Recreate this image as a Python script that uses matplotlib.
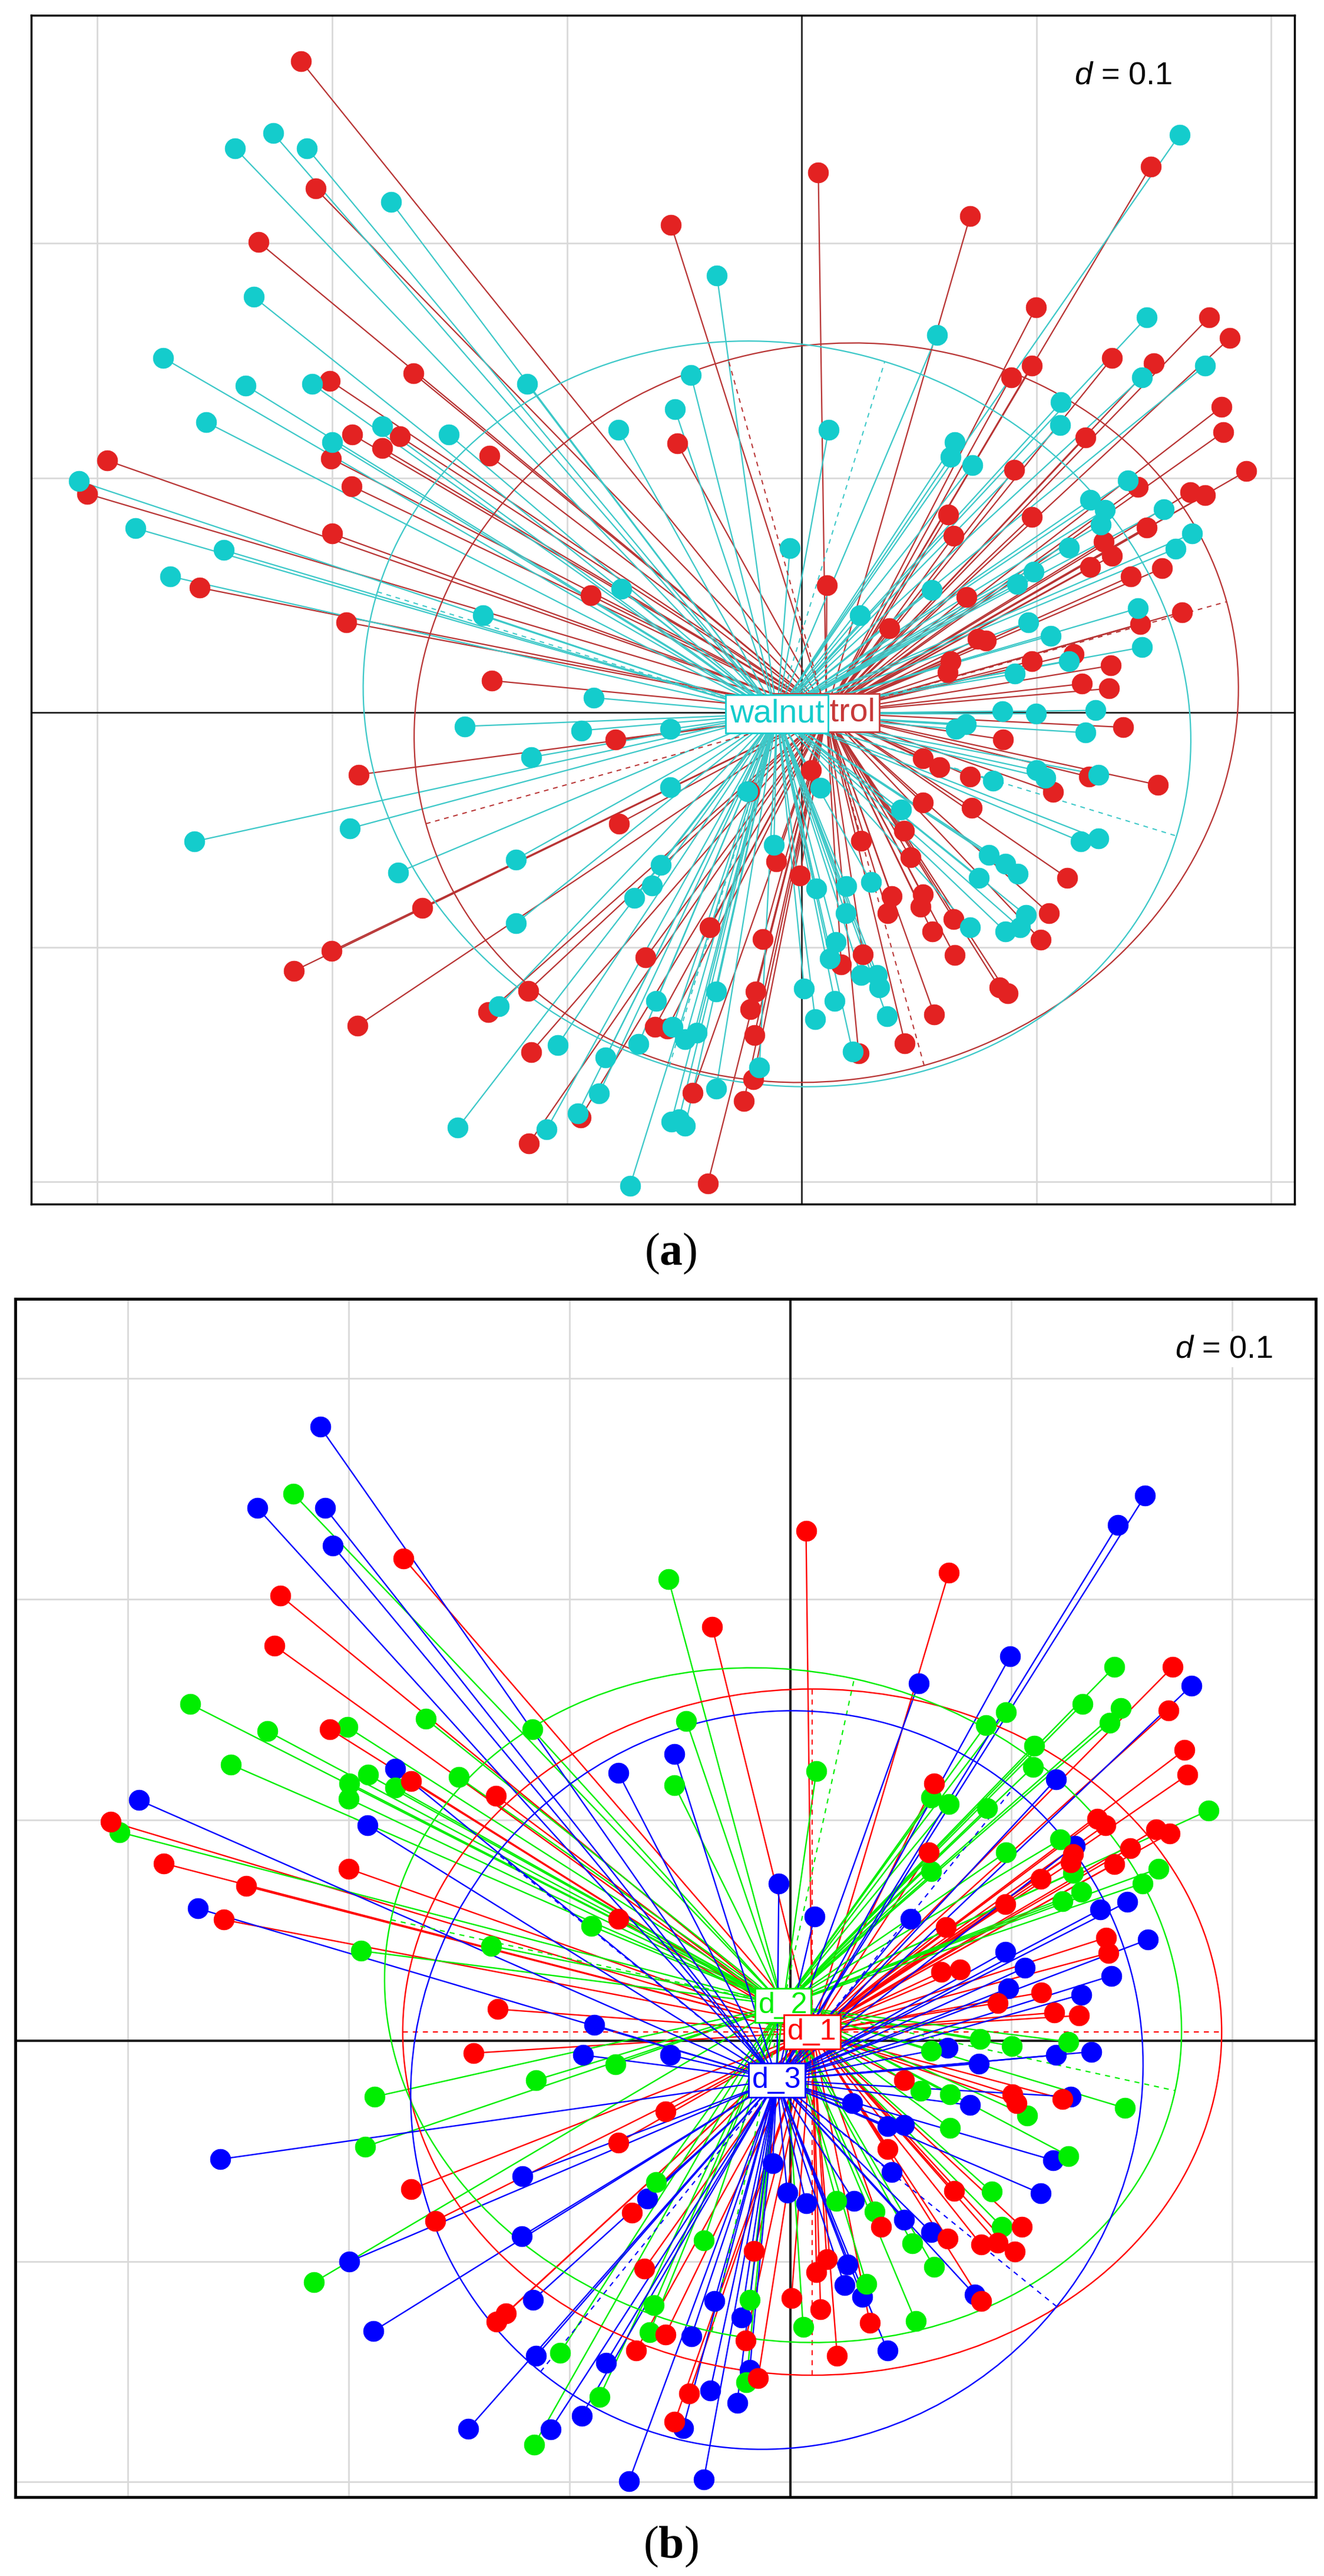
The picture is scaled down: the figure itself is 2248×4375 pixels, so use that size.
import matplotlib
matplotlib.use('Agg')
import matplotlib.pyplot as plt
from matplotlib.patches import Ellipse
from matplotlib.collections import LineCollection
import numpy as np

plt.rcParams['font.family'] = ['Liberation Sans', 'DejaVu Sans']
plt.rcParams['mathtext.fontset'] = 'custom'
plt.rcParams['mathtext.it'] = 'Liberation Sans:italic'
plt.rcParams['mathtext.rm'] = 'Liberation Sans'
plt.rcParams['mathtext.bf'] = 'Liberation Serif:bold'

# ---- panel (a): control vs walnut ----
control_pts = [
    (-0.2133, 0.2777), (-0.2071, 0.2234), (-0.2314, 0.2006), (-0.1654, 0.1446), (-0.2009, 0.1415),
    (-0.1915, 0.1186), (-0.1712, 0.1177), (-0.1787, 0.1128), (-0.2004, 0.1083), (-0.2959, 0.1075),
    (-0.1330, 0.1095), (-0.1917, 0.0966), (-0.3043, 0.0933), (-0.2000, 0.0763), (-0.2565, 0.0533),
    (-0.0899, 0.0500), (-0.1941, 0.0386), (-0.1320, 0.0137), (-0.0556, 0.2078), (-0.0530, 0.1147),
    (0.0071, 0.2302), (0.0718, 0.2117), (0.1487, 0.2328), (0.0998, 0.1727), (0.1735, 0.1684),
    (0.1824, 0.1596), (0.1323, 0.1512), (0.1501, 0.1489), (0.0980, 0.1479), (0.0892, 0.1430),
    (0.1789, 0.1303), (0.1797, 0.1196), (0.1208, 0.1173), (0.0906, 0.1036), (0.1895, 0.1030),
    (0.1655, 0.0939), (0.1718, 0.0927), (0.1433, 0.0962), (0.0625, 0.0845), (0.0980, 0.0835),
    (0.0648, 0.0753), (0.1469, 0.0790), (0.1288, 0.0728), (0.1323, 0.0669), (0.1229, 0.0620),
    (0.1535, 0.0615), (0.1403, 0.0581), (0.0107, 0.0542), (0.0702, 0.0494), (0.1620, 0.0429),
    (0.1442, 0.0377), (0.0373, 0.0361), (0.0750, 0.0314), (0.0785, 0.0308), (0.0634, 0.0220),
    (0.0980, 0.0220), (0.1158, 0.0250), (0.1318, 0.0201), (0.1194, 0.0123), (0.1309, 0.0103),
    (0.0622, 0.0172),
    (-0.0792, -0.0114), (-0.1887, -0.0264), (-0.0778, -0.0472), (-0.1616, -0.0833), (-0.2002, -0.1016),
    (-0.2162, -0.1100), (-0.1165, -0.1185), (-0.1335, -0.1276), (-0.1893, -0.1335), (-0.1153, -0.1447),
    (-0.0664, -0.1044), (-0.0625, -0.1338), (-0.0572, -0.1347), (-0.0942, -0.1725), (-0.1162, -0.1836),
    (0.1370, -0.0062), (0.0859, -0.0114), (0.1519, -0.0308), (0.1225, -0.0273), (0.1070, -0.0338),
    (0.0718, -0.0273), (0.0586, -0.0232), (0.0516, -0.0194), (0.0724, -0.0405), (0.0516, -0.0384),
    (0.1132, -0.0704), (0.0437, -0.0502), (0.0252, -0.0546), (0.0463, -0.0616), (0.0384, -0.0783),
    (0.0366, -0.0854), (0.0516, -0.0775), (0.0507, -0.0827), (0.0648, -0.0880), (0.1053, -0.0854),
    (0.1018, -0.0968), (0.0556, -0.0933), (0.0651, -0.1033), (0.0842, -0.1171), (0.0877, -0.1197),
    (0.0565, -0.1285), (0.0440, -0.1408), (0.0261, -0.1030), (0.0169, -0.1074), (-0.0007, -0.0695),
    (-0.0109, -0.0634), (-0.0165, -0.0965), (-0.0197, -0.1188), (-0.0218, -0.1264), (-0.0201, -0.1373),
    (-0.0206, -0.1563), (-0.0246, -0.1655), (-0.0465, -0.1620), (-0.0400, -0.2007), (-0.0391, -0.0915),
    (0.0040, -0.0246), (-0.0224, -0.0335), (0.0243, -0.1452),
]

walnut_pts = [
    (-0.2414, 0.2406), (-0.2252, 0.2470), (-0.2107, 0.2406), (-0.1750, 0.2178), (-0.2334, 0.1772),
    (-0.2719, 0.1512), (-0.2369, 0.1395), (-0.2085, 0.1401), (-0.2538, 0.1239), (-0.1169, 0.1401),
    (-0.1787, 0.1220), (-0.2000, 0.1153), (-0.1503, 0.1186), (-0.0780, 0.1206), (-0.3078, 0.0987),
    (-0.2838, 0.0786), (-0.2462, 0.0693), (-0.2689, 0.0581), (-0.1357, 0.0416), (-0.0769, 0.0527),
    (-0.0886, 0.0064), (-0.0540, 0.1294),
    (0.1611, 0.2464), (-0.0361, 0.1863), (0.1469, 0.1684), (-0.0472, 0.1440), (0.0577, 0.1610),
    (0.1718, 0.1479), (0.1451, 0.1430), (0.0115, 0.1206), (0.1105, 0.1323), (0.1101, 0.1225),
    (0.0652, 0.1153), (0.0634, 0.1089), (0.0728, 0.1056), (0.1389, 0.0991), (0.1229, 0.0907),
    (0.1291, 0.0864), (0.1274, 0.0802), (0.1544, 0.0868), (0.1664, 0.0763), (0.1593, 0.0699),
    (0.1140, 0.0704), (0.0989, 0.0601), (0.0918, 0.0548), (0.0554, 0.0523), (-0.0050, 0.0702),
    (0.0249, 0.0416), (0.1433, 0.0445), (0.0966, 0.0386), (0.1060, 0.0328), (0.1451, 0.0279),
    (0.1140, 0.0220), (0.0909, 0.0166), (0.0856, 0.0006), (0.0998, -0.0004), (0.1252, 0.0010),
    (-0.1435, -0.0058), (-0.0938, -0.0076), (-0.0560, -0.0070), (-0.1153, -0.0190), (-0.0560, -0.0317),
    (-0.2588, -0.0549), (-0.1924, -0.0493), (-0.1720, -0.0681), (-0.1218, -0.0625), (-0.0599, -0.0648),
    (-0.0637, -0.0736), (-0.0713, -0.0789), (-0.1218, -0.0898), (-0.1289, -0.1250), (-0.1039, -0.1417),
    (-0.0836, -0.1470), (-0.0695, -0.1412), (-0.0620, -0.1229), (-0.0863, -0.1623), (-0.0954, -0.1708),
    (-0.1086, -0.1775), (-0.1465, -0.1769), (-0.0731, -0.2016), (-0.0555, -0.1743),
    (0.1208, -0.0085), (0.0701, -0.0049), (0.0657, -0.0070), (0.1000, -0.0246), (0.1039, -0.0278),
    (0.1264, -0.0264), (0.0815, -0.0290), (0.0081, -0.0320), (0.0423, -0.0414), (0.1190, -0.0549),
    (0.1264, -0.0537), (0.0798, -0.0607), (0.0868, -0.0643), (0.0921, -0.0687), (0.0754, -0.0704),
    (0.0063, -0.0748), (0.0190, -0.0739), (0.0296, -0.0722), (0.0187, -0.0854), (0.0956, -0.0863),
    (0.0718, -0.0915), (0.0868, -0.0933), (0.0930, -0.0915), (0.0146, -0.0977), (0.0120, -0.1048),
    (0.0252, -0.1118), (0.0322, -0.1118), (0.0331, -0.1171), (0.0011, -0.1176), (0.0141, -0.1229),
    (0.0058, -0.1306), (0.0363, -0.1294), (0.0217, -0.1444), (-0.0118, -0.0563), (-0.0496, -0.1391),
    (-0.0364, -0.1188), (-0.0364, -0.1602), (-0.0180, -0.1511), (-0.0523, -0.1734), (-0.0496, -0.1761),
    (-0.0232, -0.0335), (-0.0549, -0.1338), (-0.0447, -0.1364),
]

# ---- panel (b): d_1, d_2, d_3 ----
d1_pts = [
    (-0.1752, 0.2184), (-0.2309, 0.2014), (-0.2337, 0.1788), (-0.2086, 0.1410), (-0.1718, 0.1174),
    (-0.1333, 0.1108), (-0.3077, 0.0991), (-0.2837, 0.0802), (-0.2001, 0.0778), (-0.2464, 0.0699),
    (-0.2567, 0.0547), (-0.0780, 0.0551),
    (0.0070, 0.2307), (0.0716, 0.2118), (-0.0355, 0.1873), (0.1731, 0.1693), (0.1712, 0.1495),
    (0.1784, 0.1316), (0.1797, 0.1203), (0.0651, 0.1165), (0.1388, 0.1004), (0.1425, 0.0976),
    (0.1656, 0.0957), (0.1716, 0.0938), (0.1539, 0.0872), (0.1278, 0.0844), (0.1269, 0.0806),
    (0.1467, 0.0800), (0.0627, 0.0853), (0.1133, 0.0731), (0.0972, 0.0617), (0.0702, 0.0513),
    (0.1429, 0.0466),
    (-0.1327, 0.0142), (-0.1435, -0.0057), (-0.0780, -0.0463), (-0.0566, -0.0321), (-0.1718, -0.0674),
    (-0.1610, -0.0817), (-0.0717, -0.0780), (-0.0661, -0.1033), (-0.1331, -0.1274), (-0.1289, -0.1237),
    (-0.0699, -0.1403), (-0.0566, -0.1331),
    (0.1439, 0.0396), (0.0683, 0.0311), (0.0768, 0.0321), (0.1136, 0.0217), (0.0938, 0.0170),
    (0.1193, 0.0126), (0.1306, 0.0113), (0.1231, -0.0264), (0.1004, -0.0245), (0.1023, -0.0283),
    (0.0438, -0.0491), (0.0740, -0.0680), (0.0712, -0.0897), (0.0863, -0.0925), (0.0938, -0.0916),
    (0.1014, -0.0957), (0.1046, -0.0844), (0.0410, -0.0844), (0.0117, -0.1048), (0.0164, -0.0991),
    (0.0004, -0.1167), (0.0136, -0.1218), (0.0359, -0.1278), (0.0211, -0.1429), (0.0863, -0.1180),
    (-0.0166, -0.0953), (-0.0204, -0.1359), (-0.0147, -0.1529), (-0.0459, -0.1599), (-0.0525, -0.1727),
    (0.0514, -0.0179),
]

d2_pts = [
    (-0.2252, 0.2477), (-0.2719, 0.1524), (-0.2369, 0.1401), (-0.2007, 0.1420), (-0.2535, 0.1250),
    (-0.1912, 0.1203), (-0.1997, 0.1165), (-0.2001, 0.1095), (-0.1790, 0.1146), (-0.1652, 0.1457),
    (-0.1170, 0.1410), (-0.1503, 0.1193), (-0.3039, 0.0944), (-0.0902, 0.0519), (-0.1944, 0.0406),
    (-0.1355, 0.0429),
    (-0.0553, 0.2090), (0.1467, 0.1693), (0.1322, 0.1524), (0.1495, 0.1505), (0.1444, 0.1439),
    (0.0976, 0.1486), (0.0885, 0.1429), (-0.0472, 0.1448), (0.1103, 0.1335), (0.1099, 0.1240),
    (0.0117, 0.1221), (-0.0525, 0.1155), (0.0717, 0.1070), (0.0636, 0.1099), (0.0891, 0.1052),
    (0.1892, 0.1042), (0.1221, 0.0910), (0.0976, 0.0853), (0.0636, 0.0768), (0.1665, 0.0778),
    (0.1595, 0.0712), (0.1316, 0.0674), (0.1231, 0.0631), (0.1278, 0.0759),
    (-0.0793, -0.0108), (-0.1152, -0.0179), (-0.1884, -0.0255), (-0.1926, -0.0481), (-0.2158, -0.1095),
    (-0.1044, -0.1416), (-0.0865, -0.1614), (-0.1161, -0.1831), (-0.0619, -0.1199), (-0.0638, -0.1322),
    (-0.0610, -0.0642),
    (0.0859, 0.0006), (0.1001, -0.0025), (0.1259, -0.0006), (0.1514, -0.0306), (0.1070, -0.0340),
    (0.0721, -0.0396), (0.1259, -0.0523), (0.0910, -0.0685), (0.0589, -0.0227), (0.0721, -0.0245),
    (0.0208, -0.0727), (0.0381, -0.0774), (0.0551, -0.0919), (0.0649, -0.1025), (0.0957, -0.0844),
    (0.0344, -0.1104), (0.0566, -0.1271), (0.0057, -0.1297), (-0.0393, -0.0906), (-0.0185, -0.1176),
    (-0.0200, -0.1548), (0.0636, -0.0047),
]

d3_pts = [
    (-0.2130, 0.2779), (-0.2413, 0.2411), (-0.2107, 0.2411), (-0.2073, 0.2241), (-0.1790, 0.1231),
    (-0.2951, 0.1089), (-0.1916, 0.0976), (-0.2683, 0.0598), (-0.0780, 0.1212),
    (0.1605, 0.2467), (0.1482, 0.2335), (0.0995, 0.1741), (0.1816, 0.1608), (0.0580, 0.1618),
    (-0.0525, 0.1297), (0.1203, 0.1184), (0.1288, 0.0882), (-0.0053, 0.0712), (0.0108, 0.0561),
    (0.0542, 0.0551), (0.1524, 0.0627), (0.1401, 0.0593), (0.1618, 0.0457),
    (-0.0889, 0.0070), (-0.0940, -0.0066), (-0.2583, -0.0538), (-0.1214, -0.0614), (-0.0648, -0.0717),
    (-0.1218, -0.0887), (-0.1997, -0.1001), (-0.1167, -0.1176), (-0.1888, -0.1316), (-0.1152, -0.1429),
    (-0.0836, -0.1459), (-0.1459, -0.1759), (-0.1086, -0.1761), (-0.0946, -0.1699), (-0.0732, -0.1997),
    (0.1363, -0.0051), (0.1203, -0.0066), (0.0712, -0.0032), (0.0853, -0.0104), (0.1452, 0.0293),
    (0.1316, 0.0208), (0.1061, 0.0330), (0.0972, 0.0402), (0.0985, 0.0236), (0.1269, -0.0255),
    (0.0812, -0.0293), (0.1189, -0.0542), (0.1133, -0.0693), (0.0457, -0.0595), (0.0438, -0.0387),
    (0.0514, -0.0383), (0.0636, -0.0868), (0.0514, -0.0812), (-0.0015, -0.0689), (0.0070, -0.0736),
    (0.0287, -0.0727), (0.0259, -0.1014), (0.0244, -0.1108), (0.0325, -0.1161), (0.0834, -0.1152),
    (0.0438, -0.1403), (-0.0223, -0.1255), (-0.0345, -0.1180), (-0.0185, -0.1491), (-0.0364, -0.1586),
    (-0.0242, -0.1642), (-0.0487, -0.1756), (-0.0393, -0.1988), (-0.0449, -0.1340), (-0.0544, -0.0066),
    (0.0278, -0.0283), (-0.0081, -0.0557),
]

# group centres and ellipses: (cx, cy, half-axis 1, half-axis 2, angle in degrees)
ell_a = {
    'control': (0.0105, 0.0000, 0.177, 0.156, 15.5),
    'walnut': (-0.0105, -0.0005, 0.178, 0.157, -17.0),
}
ell_b = {
    'd_1': (0.0098, 0.0038, 0.1854, 0.1554, 0.0),
    'd_2': (-0.0034, 0.0160, 0.1817, 0.1513, -12.3),
    'd_3': (-0.0062, -0.0179, 0.1700, 0.1630, 51.0),
}

grid_d = 0.1


def draw_frame(ax, xlim, ylim, axis_lw, border_lw):
    ax.set_xlim(*xlim)
    ax.set_ylim(*ylim)
    ax.set_xticks([])
    ax.set_yticks([])
    gx = np.arange(-4, 5) * grid_d
    for v in gx:
        if abs(v) > 1e-9:
            ax.axvline(v, color='#d9d9d9', lw=2.0, zorder=0)
            ax.axhline(v, color='#d9d9d9', lw=2.0, zorder=0)
    ax.axvline(0, color='#222222', lw=axis_lw, zorder=1)
    ax.axhline(0, color='#222222', lw=axis_lw, zorder=1)
    for s in ax.spines.values():
        s.set_linewidth(border_lw)
        s.set_color('black')


def draw_group(ax, pts, ell, pcol, lcol, lw):
    pts = np.array(pts)
    cx, cy, a1, a2, ang = ell
    segs = [[(cx, cy), (x, y)] for x, y in pts]
    ax.add_collection(LineCollection(segs, colors=lcol, linewidths=lw, zorder=2))
    e = Ellipse((cx, cy), 2 * a1, 2 * a2, angle=ang, fill=False, ec=lcol, lw=lw, zorder=3)
    ax.add_patch(e)
    t = np.deg2rad(ang)
    for r, th in [(a1, t), (a2, t + np.pi / 2)]:
        dx, dy = r * np.cos(th), r * np.sin(th)
        ax.plot([cx - dx, cx + dx], [cy - dy, cy + dy], color=lcol, lw=lw * 0.9,
                ls=(0, (4, 4)), zorder=3)
    return pts


def draw_points(ax, pts, pcol):
    pts = np.array(pts)
    ax.plot(pts[:, 0], pts[:, 1], 'o', ms=25, mfc=pcol, mec=pcol, mew=0.5, zorder=4)


def label(ax, x, y, txt, col, size):
    ax.text(x, y, txt, color=col, fontsize=size, ha='center', va='center', zorder=6,
            bbox=dict(boxstyle='square,pad=0.12', fc='white', ec=col, lw=2.0))


fig = plt.figure(figsize=(22.48, 43.75), dpi=100)

# panel (a)
ax_a = fig.add_axes([0.02344, 0.53250, 0.95432, 0.46162])
draw_frame(ax_a, (-0.3283, 0.2100), (-0.2095, 0.2973), 2.0, 2.5)
red_a, red_a_line = '#e32222', '#b83434'
cyan_a, cyan_a_line = '#14cccc', '#3cc8c8'
draw_group(ax_a, control_pts, ell_a['control'], red_a, red_a_line, 1.6)
draw_group(ax_a, walnut_pts, ell_a['walnut'], cyan_a, cyan_a_line, 1.6)
draw_points(ax_a, control_pts, red_a)
draw_points(ax_a, walnut_pts, cyan_a)
label(ax_a, ell_a['control'][0], ell_a['control'][1], 'control', '#c83a3a', 40)
label(ax_a, ell_a['walnut'][0], ell_a['walnut'][1], 'walnut', cyan_a, 40)
ax_a.text(0.1370, 0.2716, r'$d$ = 0.1', fontsize=39, ha='center', va='center', zorder=6,
          bbox=dict(boxstyle='square,pad=0.1', fc='white', ec='none'))

# panel (b)
ax_b = fig.add_axes([0.01143, 0.03072, 0.98234, 0.46514])
draw_frame(ax_b, (-0.3511, 0.2378), (-0.2067, 0.3360), 3.0, 3.5)
red_b, green_b, blue_b = '#ff0000', '#00ee00', '#0000ff'
draw_group(ax_b, d1_pts, ell_b['d_1'], red_b, red_b, 1.7)
draw_group(ax_b, d2_pts, ell_b['d_2'], green_b, green_b, 1.7)
draw_group(ax_b, d3_pts, ell_b['d_3'], blue_b, blue_b, 1.7)
draw_points(ax_b, d3_pts, blue_b)
draw_points(ax_b, d2_pts, green_b)
draw_points(ax_b, d1_pts, red_b)
label(ax_b, ell_b['d_2'][0], ell_b['d_2'][1], 'd_2', green_b, 36)
label(ax_b, ell_b['d_1'][0], ell_b['d_1'][1], 'd_1', red_b, 36)
label(ax_b, ell_b['d_3'][0], ell_b['d_3'][1], 'd_3', blue_b, 36)
ax_b.text(0.1962, 0.3132, r'$d$ = 0.1', fontsize=39, ha='center', va='center', zorder=6,
          bbox=dict(boxstyle='square,pad=0.1', fc='white', ec='none'))

fig.text(0.5067, 0.5134, r'($\mathbf{a}$)', fontsize=56, ha='center', va='center',
         family='Liberation Serif')
fig.text(0.5067, 0.0114, r'($\mathbf{b}$)', fontsize=56, ha='center', va='center',
         family='Liberation Serif')

fig.savefig('out.png', dpi=100, facecolor='white')
